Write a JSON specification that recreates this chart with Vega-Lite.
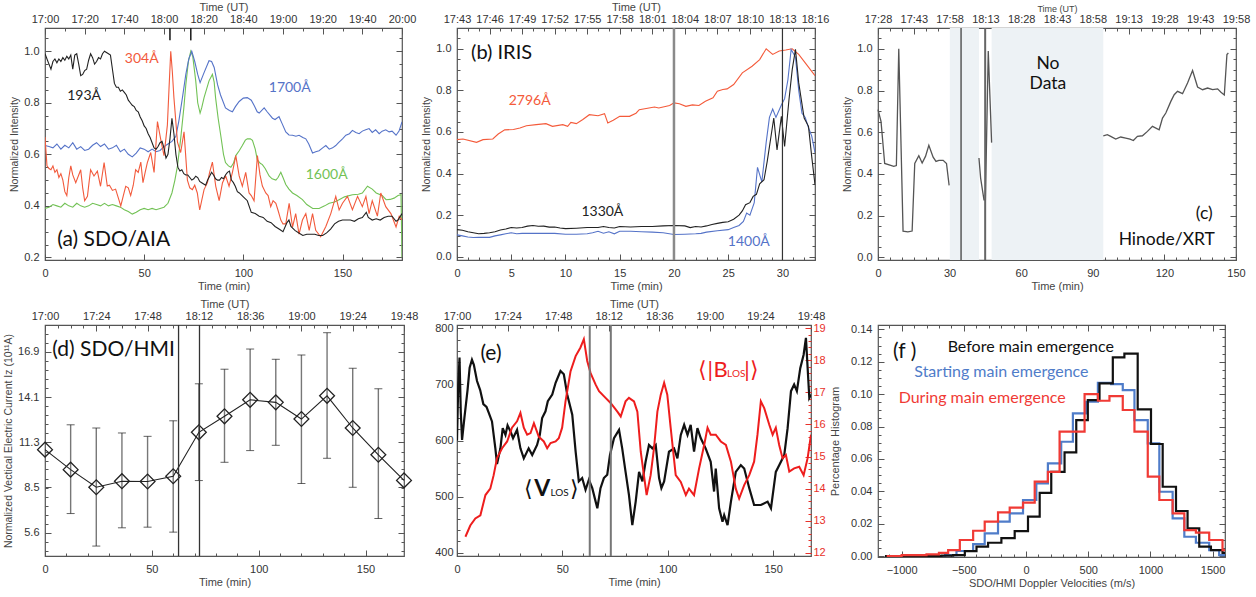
{
"$schema": "https://vega.github.io/schema/vega-lite/v6.json",
"background": "white",
"padding": {"left": 2, "top": 0, "right": 2, "bottom": 2},
"columns": 5,
"spacing": {"row": 65, "column": 10},
"align": "each",
"bounds": "flush",
"resolve": {"scale": {"color": "independent"}},
"config": {
 "view": {"stroke": "#555", "strokeWidth": 1.2},
 "axis": {"domain": false, "grid": false, "labelFlush": false, "labelOverlap": false, "labelFont": "Liberation Sans", "labelFontSize": 11, "labelColor": "#333", "titleFont": "Liberation Sans", "titleFontSize": 11, "titleFontWeight": "normal", "titleColor": "#444", "tickColor": "#555", "tickWidth": 1},
 "text": {"font": "Lato"}
},
"datasets": {
 "a_lines": [
  {"s":"1600","t":0,"v":0.39},{"s":"1600","t":2,"v":0.395},{"s":"1600","t":4,"v":0.405},{"s":"1600","t":6,"v":0.4},{"s":"1600","t":8,"v":0.395},{"s":"1600","t":10,"v":0.41},{"s":"1600","t":12,"v":0.4},{"s":"1600","t":14,"v":0.395},{"s":"1600","t":16,"v":0.41},{"s":"1600","t":18,"v":0.4},{"s":"1600","t":20,"v":0.395},{"s":"1600","t":22,"v":0.4},{"s":"1600","t":24,"v":0.41},{"s":"1600","t":26,"v":0.405},{"s":"1600","t":28,"v":0.4},{"s":"1600","t":30,"v":0.41},{"s":"1600","t":32,"v":0.4},{"s":"1600","t":34,"v":0.405},{"s":"1600","t":36,"v":0.4},{"s":"1600","t":38,"v":0.395},{"s":"1600","t":40,"v":0.385},{"s":"1600","t":42,"v":0.378},{"s":"1600","t":44,"v":0.368},{"s":"1600","t":46,"v":0.375},{"s":"1600","t":48,"v":0.385},{"s":"1600","t":50,"v":0.39},{"s":"1600","t":52,"v":0.385},{"s":"1600","t":54,"v":0.39},{"s":"1600","t":56,"v":0.385},{"s":"1600","t":58,"v":0.39},{"s":"1600","t":60,"v":0.395},{"s":"1600","t":62,"v":0.41},{"s":"1600","t":64,"v":0.45},{"s":"1600","t":65.5,"v":0.5},{"s":"1600","t":66.8,"v":0.555},{"s":"1600","t":68.4,"v":0.66},{"s":"1600","t":70,"v":0.78},{"s":"1600","t":71,"v":0.87},{"s":"1600","t":72.3,"v":0.96},{"s":"1600","t":73.5,"v":1.0},{"s":"1600","t":74.5,"v":0.98},{"s":"1600","t":76,"v":0.885},{"s":"1600","t":77,"v":0.8},{"s":"1600","t":78.2,"v":0.76},{"s":"1600","t":79,"v":0.78},{"s":"1600","t":80.2,"v":0.82},{"s":"1600","t":82.7,"v":0.885},{"s":"1600","t":84.4,"v":0.91},{"s":"1600","t":85.3,"v":0.88},{"s":"1600","t":86,"v":0.82},{"s":"1600","t":87.3,"v":0.74},{"s":"1600","t":88.6,"v":0.674},{"s":"1600","t":90,"v":0.6},{"s":"1600","t":91,"v":0.568},{"s":"1600","t":92.5,"v":0.555},{"s":"1600","t":93.7,"v":0.55},{"s":"1600","t":95,"v":0.565},{"s":"1600","t":96.2,"v":0.595},{"s":"1600","t":98,"v":0.615},{"s":"1600","t":99.5,"v":0.634},{"s":"1600","t":101,"v":0.655},{"s":"1600","t":102,"v":0.66},{"s":"1600","t":103.5,"v":0.66},{"s":"1600","t":104.6,"v":0.654},{"s":"1600","t":106,"v":0.62},{"s":"1600","t":107,"v":0.58},{"s":"1600","t":108.5,"v":0.565},{"s":"1600","t":109.6,"v":0.56},{"s":"1600","t":111,"v":0.545},{"s":"1600","t":113,"v":0.516},{"s":"1600","t":114.5,"v":0.505},{"s":"1600","t":116.4,"v":0.5},{"s":"1600","t":117.5,"v":0.51},{"s":"1600","t":118.9,"v":0.53},{"s":"1600","t":120,"v":0.51},{"s":"1600","t":121.4,"v":0.483},{"s":"1600","t":123,"v":0.465},{"s":"1600","t":124.8,"v":0.45},{"s":"1600","t":127,"v":0.44},{"s":"1600","t":129.8,"v":0.424},{"s":"1600","t":132,"v":0.405},{"s":"1600","t":135,"v":0.39},{"s":"1600","t":138.2,"v":0.39},{"s":"1600","t":141,"v":0.4},{"s":"1600","t":143.3,"v":0.41},{"s":"1600","t":146,"v":0.415},{"s":"1600","t":148.3,"v":0.424},{"s":"1600","t":151,"v":0.435},{"s":"1600","t":155,"v":0.443},{"s":"1600","t":158,"v":0.445},{"s":"1600","t":160,"v":0.45},{"s":"1600","t":162.6,"v":0.476},{"s":"1600","t":165,"v":0.465},{"s":"1600","t":167,"v":0.45},{"s":"1600","t":170,"v":0.44},{"s":"1600","t":172,"v":0.424},{"s":"1600","t":174,"v":0.425},{"s":"1600","t":176,"v":0.43},{"s":"1600","t":178,"v":0.44},{"s":"1600","t":179.5,"v":0.443},{"s":"1600","t":180,"v":0.2},
  {"s":"1700","t":0,"v":0.634},{"s":"1700","t":2,"v":0.63},{"s":"1700","t":4,"v":0.625},{"s":"1700","t":6,"v":0.64},{"s":"1700","t":8,"v":0.62},{"s":"1700","t":10,"v":0.635},{"s":"1700","t":12,"v":0.625},{"s":"1700","t":14,"v":0.645},{"s":"1700","t":16,"v":0.62},{"s":"1700","t":18,"v":0.63},{"s":"1700","t":20,"v":0.615},{"s":"1700","t":22,"v":0.62},{"s":"1700","t":24,"v":0.635},{"s":"1700","t":26,"v":0.645},{"s":"1700","t":28,"v":0.63},{"s":"1700","t":30,"v":0.64},{"s":"1700","t":32,"v":0.62},{"s":"1700","t":34,"v":0.625},{"s":"1700","t":36,"v":0.635},{"s":"1700","t":38,"v":0.61},{"s":"1700","t":40,"v":0.62},{"s":"1700","t":42,"v":0.6},{"s":"1700","t":44,"v":0.59},{"s":"1700","t":46,"v":0.605},{"s":"1700","t":48,"v":0.625},{"s":"1700","t":50,"v":0.62},{"s":"1700","t":52,"v":0.61},{"s":"1700","t":54,"v":0.62},{"s":"1700","t":56,"v":0.61},{"s":"1700","t":58,"v":0.615},{"s":"1700","t":60,"v":0.63},{"s":"1700","t":62,"v":0.64},{"s":"1700","t":64,"v":0.65},{"s":"1700","t":66,"v":0.67},{"s":"1700","t":67.5,"v":0.73},{"s":"1700","t":69.3,"v":0.82},{"s":"1700","t":71,"v":0.91},{"s":"1700","t":72.5,"v":0.97},{"s":"1700","t":74,"v":1.0},{"s":"1700","t":75.5,"v":0.96},{"s":"1700","t":77,"v":0.91},{"s":"1700","t":78.2,"v":0.878},{"s":"1700","t":80.2,"v":0.917},{"s":"1700","t":82.7,"v":0.963},{"s":"1700","t":84,"v":0.96},{"s":"1700","t":85.3,"v":0.937},{"s":"1700","t":87,"v":0.87},{"s":"1700","t":88.5,"v":0.83},{"s":"1700","t":91,"v":0.78},{"s":"1700","t":93,"v":0.77},{"s":"1700","t":94.5,"v":0.765},{"s":"1700","t":96,"v":0.785},{"s":"1700","t":97.9,"v":0.805},{"s":"1700","t":100,"v":0.818},{"s":"1700","t":102,"v":0.82},{"s":"1700","t":104,"v":0.81},{"s":"1700","t":105.4,"v":0.79},{"s":"1700","t":107,"v":0.765},{"s":"1700","t":108,"v":0.76},{"s":"1700","t":110.5,"v":0.78},{"s":"1700","t":112,"v":0.765},{"s":"1700","t":114.7,"v":0.74},{"s":"1700","t":116,"v":0.735},{"s":"1700","t":118,"v":0.746},{"s":"1700","t":119.5,"v":0.72},{"s":"1700","t":121.4,"v":0.687},{"s":"1700","t":123,"v":0.675},{"s":"1700","t":124.8,"v":0.674},{"s":"1700","t":126.5,"v":0.67},{"s":"1700","t":128.1,"v":0.674},{"s":"1700","t":130,"v":0.665},{"s":"1700","t":131.5,"v":0.66},{"s":"1700","t":133,"v":0.64},{"s":"1700","t":134.9,"v":0.605},{"s":"1700","t":136.5,"v":0.61},{"s":"1700","t":138.2,"v":0.614},{"s":"1700","t":140,"v":0.625},{"s":"1700","t":141.6,"v":0.634},{"s":"1700","t":143.3,"v":0.62},{"s":"1700","t":145,"v":0.625},{"s":"1700","t":146.6,"v":0.634},{"s":"1700","t":148,"v":0.645},{"s":"1700","t":150,"v":0.66},{"s":"1700","t":151.7,"v":0.674},{"s":"1700","t":153.5,"v":0.68},{"s":"1700","t":155,"v":0.693},{"s":"1700","t":156.7,"v":0.685},{"s":"1700","t":158.4,"v":0.68},{"s":"1700","t":160,"v":0.69},{"s":"1700","t":161.7,"v":0.695},{"s":"1700","t":163.4,"v":0.7},{"s":"1700","t":165,"v":0.685},{"s":"1700","t":166.7,"v":0.695},{"s":"1700","t":168.5,"v":0.68},{"s":"1700","t":170,"v":0.69},{"s":"1700","t":171.8,"v":0.695},{"s":"1700","t":173.5,"v":0.687},{"s":"1700","t":175,"v":0.69},{"s":"1700","t":177,"v":0.674},{"s":"1700","t":178.5,"v":0.69},{"s":"1700","t":180,"v":0.726},
  {"s":"304","t":0,"v":0.667},{"s":"304","t":1,"v":0.555},{"s":"304","t":2,"v":0.545},{"s":"304","t":3,"v":0.54},{"s":"304","t":4,"v":0.555},{"s":"304","t":5,"v":0.53},{"s":"304","t":6,"v":0.54},{"s":"304","t":7,"v":0.51},{"s":"304","t":8,"v":0.525},{"s":"304","t":9,"v":0.5},{"s":"304","t":10,"v":0.455},{"s":"304","t":11,"v":0.44},{"s":"304","t":12,"v":0.51},{"s":"304","t":13,"v":0.555},{"s":"304","t":14,"v":0.52},{"s":"304","t":15.5,"v":0.49},{"s":"304","t":17,"v":0.52},{"s":"304","t":18,"v":0.54},{"s":"304","t":19,"v":0.47},{"s":"304","t":20,"v":0.42},{"s":"304","t":21.4,"v":0.437},{"s":"304","t":22.2,"v":0.49},{"s":"304","t":23,"v":0.54},{"s":"304","t":24.7,"v":0.516},{"s":"304","t":26.4,"v":0.535},{"s":"304","t":28,"v":0.476},{"s":"304","t":29.8,"v":0.568},{"s":"304","t":31.4,"v":0.477},{"s":"304","t":32.5,"v":0.48},{"s":"304","t":34,"v":0.46},{"s":"304","t":35.6,"v":0.465},{"s":"304","t":37,"v":0.43},{"s":"304","t":38.2,"v":0.4},{"s":"304","t":39.5,"v":0.44},{"s":"304","t":40.7,"v":0.476},{"s":"304","t":42,"v":0.47},{"s":"304","t":43.2,"v":0.44},{"s":"304","t":44.5,"v":0.48},{"s":"304","t":45.7,"v":0.54},{"s":"304","t":47,"v":0.53},{"s":"304","t":48.3,"v":0.57},{"s":"304","t":49.4,"v":0.49},{"s":"304","t":50.5,"v":0.53},{"s":"304","t":51.6,"v":0.568},{"s":"304","t":53.3,"v":0.607},{"s":"304","t":55,"v":0.53},{"s":"304","t":56.7,"v":0.727},{"s":"304","t":58.3,"v":0.66},{"s":"304","t":60,"v":0.595},{"s":"304","t":61.7,"v":0.713},{"s":"304","t":62.5,"v":0.85},{"s":"304","t":63.4,"v":1.0},{"s":"304","t":64.2,"v":0.92},{"s":"304","t":65,"v":0.82},{"s":"304","t":66.8,"v":0.647},{"s":"304","t":68.4,"v":0.607},{"s":"304","t":70.1,"v":0.687},{"s":"304","t":71.8,"v":0.5},{"s":"304","t":73,"v":0.47},{"s":"304","t":74.3,"v":0.463},{"s":"304","t":75.5,"v":0.48},{"s":"304","t":76.8,"v":0.45},{"s":"304","t":78,"v":0.384},{"s":"304","t":79,"v":0.42},{"s":"304","t":80.2,"v":0.463},{"s":"304","t":81.9,"v":0.49},{"s":"304","t":83,"v":0.53},{"s":"304","t":84.4,"v":0.57},{"s":"304","t":86.1,"v":0.476},{"s":"304","t":87.8,"v":0.42},{"s":"304","t":89.5,"v":0.49},{"s":"304","t":91.1,"v":0.516},{"s":"304","t":92.8,"v":0.476},{"s":"304","t":94.5,"v":0.53},{"s":"304","t":96.2,"v":0.595},{"s":"304","t":97.9,"v":0.516},{"s":"304","t":99.5,"v":0.476},{"s":"304","t":101.2,"v":0.53},{"s":"304","t":102.9,"v":0.45},{"s":"304","t":104,"v":0.44},{"s":"304","t":105.4,"v":0.42},{"s":"304","t":107.1,"v":0.595},{"s":"304","t":108.4,"v":0.52},{"s":"304","t":109.6,"v":0.477},{"s":"304","t":111.3,"v":0.45},{"s":"304","t":112.5,"v":0.44},{"s":"304","t":113.8,"v":0.397},{"s":"304","t":115,"v":0.42},{"s":"304","t":116.4,"v":0.41},{"s":"304","t":117.6,"v":0.38},{"s":"304","t":118.9,"v":0.345},{"s":"304","t":120,"v":0.33},{"s":"304","t":121.4,"v":0.33},{"s":"304","t":123.1,"v":0.41},{"s":"304","t":124.8,"v":0.318},{"s":"304","t":126.4,"v":0.37},{"s":"304","t":128.1,"v":0.29},{"s":"304","t":129.8,"v":0.345},{"s":"304","t":131.5,"v":0.37},{"s":"304","t":133.2,"v":0.305},{"s":"304","t":134.9,"v":0.37},{"s":"304","t":136.5,"v":0.305},{"s":"304","t":139,"v":0.28},{"s":"304","t":141.6,"v":0.32},{"s":"304","t":144.1,"v":0.37},{"s":"304","t":146.6,"v":0.437},{"s":"304","t":148.3,"v":0.384},{"s":"304","t":150,"v":0.41},{"s":"304","t":152.5,"v":0.437},{"s":"304","t":155,"v":0.385},{"s":"304","t":157.6,"v":0.437},{"s":"304","t":160,"v":0.397},{"s":"304","t":161.8,"v":0.437},{"s":"304","t":163.4,"v":0.37},{"s":"304","t":165,"v":0.42},{"s":"304","t":167.6,"v":0.36},{"s":"304","t":169.3,"v":0.45},{"s":"304","t":171.8,"v":0.397},{"s":"304","t":174.4,"v":0.37},{"s":"304","t":177,"v":0.318},{"s":"304","t":178.6,"v":0.36},{"s":"304","t":180,"v":0.345},
  {"s":"193","t":0,"v":0.99},{"s":"193","t":1,"v":0.97},{"s":"193","t":2,"v":0.95},{"s":"193","t":3,"v":0.93},{"s":"193","t":4,"v":0.96},{"s":"193","t":5,"v":0.97},{"s":"193","t":6,"v":0.955},{"s":"193","t":7,"v":0.97},{"s":"193","t":8,"v":0.96},{"s":"193","t":9,"v":0.975},{"s":"193","t":10,"v":0.965},{"s":"193","t":11,"v":0.98},{"s":"193","t":12,"v":0.97},{"s":"193","t":13,"v":0.985},{"s":"193","t":14,"v":0.93},{"s":"193","t":15,"v":0.985},{"s":"193","t":16,"v":0.99},{"s":"193","t":17,"v":0.95},{"s":"193","t":18,"v":0.905},{"s":"193","t":19,"v":0.91},{"s":"193","t":20,"v":0.925},{"s":"193","t":21,"v":0.93},{"s":"193","t":22,"v":0.965},{"s":"193","t":23,"v":0.99},{"s":"193","t":24,"v":0.975},{"s":"193","t":25,"v":0.95},{"s":"193","t":26,"v":0.96},{"s":"193","t":27,"v":0.975},{"s":"193","t":28,"v":0.97},{"s":"193","t":29,"v":0.99},{"s":"193","t":30,"v":1.0},{"s":"193","t":31,"v":0.995},{"s":"193","t":32,"v":0.99},{"s":"193","t":33,"v":0.985},{"s":"193","t":34,"v":0.93},{"s":"193","t":35,"v":0.875},{"s":"193","t":36,"v":0.86},{"s":"193","t":37,"v":0.86},{"s":"193","t":38,"v":0.845},{"s":"193","t":39,"v":0.85},{"s":"193","t":40,"v":0.84},{"s":"193","t":41,"v":0.83},{"s":"193","t":42,"v":0.81},{"s":"193","t":43,"v":0.8},{"s":"193","t":44,"v":0.79},{"s":"193","t":45,"v":0.785},{"s":"193","t":46,"v":0.77},{"s":"193","t":47,"v":0.765},{"s":"193","t":48,"v":0.745},{"s":"193","t":49,"v":0.73},{"s":"193","t":50,"v":0.71},{"s":"193","t":51,"v":0.7},{"s":"193","t":52,"v":0.68},{"s":"193","t":53,"v":0.665},{"s":"193","t":54,"v":0.645},{"s":"193","t":55,"v":0.625},{"s":"193","t":56,"v":0.62},{"s":"193","t":57,"v":0.63},{"s":"193","t":58,"v":0.645},{"s":"193","t":59,"v":0.65},{"s":"193","t":60,"v":0.625},{"s":"193","t":61,"v":0.585},{"s":"193","t":62,"v":0.6},{"s":"193","t":63,"v":0.66},{"s":"193","t":64,"v":0.74},{"s":"193","t":65,"v":0.68},{"s":"193","t":66,"v":0.6},{"s":"193","t":67,"v":0.55},{"s":"193","t":68,"v":0.535},{"s":"193","t":69,"v":0.54},{"s":"193","t":70,"v":0.525},{"s":"193","t":71,"v":0.52},{"s":"193","t":72,"v":0.52},{"s":"193","t":73,"v":0.51},{"s":"193","t":74,"v":0.5},{"s":"193","t":75,"v":0.505},{"s":"193","t":76,"v":0.515},{"s":"193","t":77,"v":0.51},{"s":"193","t":78,"v":0.495},{"s":"193","t":79,"v":0.49},{"s":"193","t":80,"v":0.485},{"s":"193","t":81,"v":0.48},{"s":"193","t":82,"v":0.5},{"s":"193","t":83,"v":0.515},{"s":"193","t":84,"v":0.53},{"s":"193","t":85,"v":0.52},{"s":"193","t":86,"v":0.505},{"s":"193","t":87,"v":0.5},{"s":"193","t":88,"v":0.5},{"s":"193","t":89,"v":0.51},{"s":"193","t":90,"v":0.505},{"s":"193","t":91,"v":0.52},{"s":"193","t":92,"v":0.53},{"s":"193","t":93,"v":0.535},{"s":"193","t":94,"v":0.5},{"s":"193","t":95,"v":0.49},{"s":"193","t":96,"v":0.475},{"s":"193","t":97,"v":0.455},{"s":"193","t":98,"v":0.45},{"s":"193","t":100,"v":0.435},{"s":"193","t":102,"v":0.42},{"s":"193","t":104,"v":0.375},{"s":"193","t":106,"v":0.37},{"s":"193","t":108,"v":0.36},{"s":"193","t":110,"v":0.355},{"s":"193","t":112,"v":0.34},{"s":"193","t":114,"v":0.335},{"s":"193","t":116,"v":0.32},{"s":"193","t":118,"v":0.31},{"s":"193","t":120,"v":0.3},{"s":"193","t":122,"v":0.335},{"s":"193","t":123,"v":0.345},{"s":"193","t":124,"v":0.32},{"s":"193","t":126,"v":0.305},{"s":"193","t":128,"v":0.295},{"s":"193","t":130,"v":0.285},{"s":"193","t":132,"v":0.29},{"s":"193","t":134,"v":0.29},{"s":"193","t":136,"v":0.29},{"s":"193","t":138,"v":0.285},{"s":"193","t":140,"v":0.285},{"s":"193","t":142,"v":0.295},{"s":"193","t":144,"v":0.31},{"s":"193","t":146,"v":0.33},{"s":"193","t":148,"v":0.34},{"s":"193","t":150,"v":0.345},{"s":"193","t":152,"v":0.345},{"s":"193","t":154,"v":0.345},{"s":"193","t":156,"v":0.34},{"s":"193","t":158,"v":0.35},{"s":"193","t":160,"v":0.355},{"s":"193","t":162,"v":0.375},{"s":"193","t":163,"v":0.355},{"s":"193","t":165,"v":0.345},{"s":"193","t":167,"v":0.35},{"s":"193","t":169,"v":0.345},{"s":"193","t":171,"v":0.355},{"s":"193","t":173,"v":0.36},{"s":"193","t":175,"v":0.36},{"s":"193","t":177,"v":0.34},{"s":"193","t":178,"v":0.345},{"s":"193","t":180,"v":0.37}
 ],
 "a_text": [{"s":"193","t":19.7,"v":0.825,"label":"193Å"},{"s":"304","t":48.8,"v":0.97,"label":"304Å"},{"s":"1700","t":123.4,"v":0.858,"label":"1700Å"},{"s":"1600","t":142,"v":0.52,"label":"1600Å"}],
 "a_marks": [{"t":63,"lo":1.042,"hi":1.09},{"t":73.5,"lo":1.042,"hi":1.09}],
 "a_title": [{"t":6.2,"v":0.266,"label":"(a) SDO/AIA"}],
 "b_lines": [
  {"s":"2796","t":0,"v":0.563},{"s":"2796","t":0.55,"v":0.566},{"s":"2796","t":1.8,"v":0.55},{"s":"2796","t":2.4,"v":0.563},{"s":"2796","t":3.3,"v":0.566},{"s":"2796","t":3.8,"v":0.59},{"s":"2796","t":4.4,"v":0.61},{"s":"2796","t":5.2,"v":0.612},{"s":"2796","t":5.8,"v":0.619},{"s":"2796","t":6.4,"v":0.63},{"s":"2796","t":7.3,"v":0.635},{"s":"2796","t":8.2,"v":0.64},{"s":"2796","t":8.8,"v":0.627},{"s":"2796","t":9.75,"v":0.635},{"s":"2796","t":10.2,"v":0.627},{"s":"2796","t":10.5,"v":0.646},{"s":"2796","t":11,"v":0.64},{"s":"2796","t":11.6,"v":0.66},{"s":"2796","t":12.2,"v":0.683},{"s":"2796","t":13,"v":0.678},{"s":"2796","t":13.6,"v":0.688},{"s":"2796","t":13.9,"v":0.643},{"s":"2796","t":14.4,"v":0.656},{"s":"2796","t":15,"v":0.675},{"s":"2796","t":15.9,"v":0.675},{"s":"2796","t":16.5,"v":0.69},{"s":"2796","t":16.8,"v":0.707},{"s":"2796","t":17.7,"v":0.715},{"s":"2796","t":18.2,"v":0.72},{"s":"2796","t":18.6,"v":0.715},{"s":"2796","t":19.6,"v":0.727},{"s":"2796","t":20,"v":0.74},{"s":"2796","t":20.5,"v":0.736},{"s":"2796","t":21.1,"v":0.723},{"s":"2796","t":21.7,"v":0.73},{"s":"2796","t":22.3,"v":0.727},{"s":"2796","t":22.9,"v":0.748},{"s":"2796","t":23.6,"v":0.764},{"s":"2796","t":24,"v":0.796},{"s":"2796","t":24.5,"v":0.804},{"s":"2796","t":24.9,"v":0.807},{"s":"2796","t":25.5,"v":0.828},{"s":"2796","t":26.3,"v":0.884},{"s":"2796","t":27.2,"v":0.916},{"s":"2796","t":27.9,"v":0.948},{"s":"2796","t":28.5,"v":1.0},{"s":"2796","t":29.1,"v":0.973},{"s":"2796","t":29.7,"v":0.989},{"s":"2796","t":30.3,"v":0.994},{"s":"2796","t":30.9,"v":1.0},{"s":"2796","t":31.5,"v":0.973},{"s":"2796","t":32.1,"v":0.932},{"s":"2796","t":33,"v":0.871},
  {"s":"1400","t":0,"v":0.105},{"s":"1400","t":0.5,"v":0.1},{"s":"1400","t":1,"v":0.095},{"s":"1400","t":1.5,"v":0.092},{"s":"1400","t":2,"v":0.093},{"s":"1400","t":3,"v":0.093},{"s":"1400","t":3.5,"v":0.1},{"s":"1400","t":4,"v":0.105},{"s":"1400","t":4.5,"v":0.11},{"s":"1400","t":5,"v":0.115},{"s":"1400","t":5.5,"v":0.11},{"s":"1400","t":6,"v":0.112},{"s":"1400","t":7,"v":0.113},{"s":"1400","t":8,"v":0.112},{"s":"1400","t":9,"v":0.112},{"s":"1400","t":10,"v":0.108},{"s":"1400","t":11,"v":0.108},{"s":"1400","t":12,"v":0.11},{"s":"1400","t":12.5,"v":0.115},{"s":"1400","t":13,"v":0.122},{"s":"1400","t":13.5,"v":0.113},{"s":"1400","t":14,"v":0.12},{"s":"1400","t":14.5,"v":0.11},{"s":"1400","t":15,"v":0.122},{"s":"1400","t":16,"v":0.122},{"s":"1400","t":17,"v":0.12},{"s":"1400","t":18,"v":0.118},{"s":"1400","t":19,"v":0.115},{"s":"1400","t":20,"v":0.107},{"s":"1400","t":21,"v":0.108},{"s":"1400","t":22,"v":0.11},{"s":"1400","t":22.5,"v":0.112},{"s":"1400","t":23,"v":0.118},{"s":"1400","t":24,"v":0.125},{"s":"1400","t":25,"v":0.13},{"s":"1400","t":25.5,"v":0.14},{"s":"1400","t":26,"v":0.15},{"s":"1400","t":26.4,"v":0.17},{"s":"1400","t":26.7,"v":0.21},{"s":"1400","t":27,"v":0.2},{"s":"1400","t":27.4,"v":0.26},{"s":"1400","t":27.7,"v":0.43},{"s":"1400","t":28.1,"v":0.36},{"s":"1400","t":28.5,"v":0.55},{"s":"1400","t":28.8,"v":0.67},{"s":"1400","t":29.1,"v":0.71},{"s":"1400","t":29.4,"v":0.67},{"s":"1400","t":29.9,"v":0.73},{"s":"1400","t":30.2,"v":0.76},{"s":"1400","t":30.5,"v":0.85},{"s":"1400","t":30.8,"v":0.997},{"s":"1400","t":31.2,"v":0.96},{"s":"1400","t":31.5,"v":0.8},{"s":"1400","t":31.8,"v":0.69},{"s":"1400","t":32.1,"v":0.67},{"s":"1400","t":32.4,"v":0.62},{"s":"1400","t":32.7,"v":0.58},{"s":"1400","t":33,"v":0.5},
  {"s":"1330","t":0,"v":0.13},{"s":"1330","t":0.5,"v":0.127},{"s":"1330","t":1,"v":0.12},{"s":"1330","t":1.5,"v":0.115},{"s":"1330","t":2,"v":0.11},{"s":"1330","t":2.5,"v":0.112},{"s":"1330","t":3,"v":0.115},{"s":"1330","t":3.5,"v":0.12},{"s":"1330","t":4,"v":0.128},{"s":"1330","t":4.5,"v":0.133},{"s":"1330","t":5,"v":0.14},{"s":"1330","t":5.5,"v":0.138},{"s":"1330","t":6,"v":0.14},{"s":"1330","t":6.5,"v":0.147},{"s":"1330","t":7,"v":0.15},{"s":"1330","t":7.5,"v":0.146},{"s":"1330","t":8,"v":0.147},{"s":"1330","t":8.5,"v":0.142},{"s":"1330","t":9,"v":0.143},{"s":"1330","t":9.5,"v":0.138},{"s":"1330","t":10,"v":0.135},{"s":"1330","t":11,"v":0.137},{"s":"1330","t":12,"v":0.14},{"s":"1330","t":13,"v":0.14},{"s":"1330","t":13.5,"v":0.145},{"s":"1330","t":14,"v":0.14},{"s":"1330","t":14.5,"v":0.138},{"s":"1330","t":15,"v":0.145},{"s":"1330","t":16,"v":0.143},{"s":"1330","t":17,"v":0.145},{"s":"1330","t":18,"v":0.145},{"s":"1330","t":19,"v":0.148},{"s":"1330","t":20,"v":0.15},{"s":"1330","t":21,"v":0.148},{"s":"1330","t":21.5,"v":0.14},{"s":"1330","t":22,"v":0.145},{"s":"1330","t":22.5,"v":0.143},{"s":"1330","t":23,"v":0.148},{"s":"1330","t":23.5,"v":0.155},{"s":"1330","t":24,"v":0.16},{"s":"1330","t":24.5,"v":0.165},{"s":"1330","t":25,"v":0.168},{"s":"1330","t":25.5,"v":0.18},{"s":"1330","t":26,"v":0.2},{"s":"1330","t":26.3,"v":0.22},{"s":"1330","t":26.6,"v":0.25},{"s":"1330","t":27,"v":0.26},{"s":"1330","t":27.3,"v":0.29},{"s":"1330","t":27.6,"v":0.3},{"s":"1330","t":27.9,"v":0.35},{"s":"1330","t":28.3,"v":0.37},{"s":"1330","t":28.6,"v":0.46},{"s":"1330","t":29.2,"v":0.667},{"s":"1330","t":29.5,"v":0.514},{"s":"1330","t":29.9,"v":0.675},{"s":"1330","t":30.2,"v":0.53},{"s":"1330","t":30.6,"v":0.755},{"s":"1330","t":30.9,"v":0.9},{"s":"1330","t":31.2,"v":0.997},{"s":"1330","t":31.5,"v":0.836},{"s":"1330","t":32,"v":0.667},{"s":"1330","t":32.4,"v":0.627},{"s":"1330","t":32.7,"v":0.48},{"s":"1330","t":33,"v":0.346}
 ],
 "b_text": [{"s":"2796","t":6.7,"v":0.748,"label":"2796Å"},{"s":"1330","t":13.4,"v":0.217,"label":"1330Å"},{"s":"1400","t":26.9,"v":0.072,"label":"1400Å"}],
 "b_rules": [{"k":"gray","t":20,"lo":-0.016,"hi":1.1},{"k":"dark","t":30,"lo":-0.016,"hi":1.1}],
 "b_title": [{"t":1.3,"v":0.98,"label":"(b) IRIS"}],
 "c_shade": [{"t0":30.1,"t1":42.3,"lo":-0.013,"hi":1.1},{"t0":47.6,"t1":94.4,"lo":-0.013,"hi":1.1}],
 "c_line": [
  {"seg":1,"t":0,"v":0.708},{"seg":1,"t":1.26,"v":0.652},{"seg":1,"t":2.8,"v":0.45},{"seg":1,"t":6.6,"v":0.436},{"seg":1,"t":7.7,"v":0.44},{"seg":1,"t":8.7,"v":1.0},{"seg":1,"t":10.5,"v":0.125},{"seg":1,"t":12.5,"v":0.122},{"seg":1,"t":14.3,"v":0.126},{"seg":1,"t":15.4,"v":0.45},{"seg":1,"t":17.1,"v":0.487},{"seg":1,"t":18.5,"v":0.452},{"seg":1,"t":19.9,"v":0.484},{"seg":1,"t":21.3,"v":0.537},{"seg":1,"t":23.1,"v":0.48},{"seg":1,"t":24.3,"v":0.46},{"seg":1,"t":25.5,"v":0.465},{"seg":1,"t":27.3,"v":0.465},{"seg":1,"t":28.7,"v":0.45},{"seg":1,"t":29.8,"v":0.345},
  {"seg":2,"t":42.3,"v":0.476},{"seg":2,"t":43,"v":0.38},{"seg":2,"t":44.4,"v":0.276},{"seg":2,"t":45,"v":0.276},{"seg":2,"t":46.2,"v":0.99},{"seg":2,"t":47.6,"v":0.55},
  {"seg":3,"t":94.4,"v":0.583},{"seg":3,"t":96.1,"v":0.588},{"seg":3,"t":97.5,"v":0.58},{"seg":3,"t":99.6,"v":0.567},{"seg":3,"t":101.7,"v":0.577},{"seg":3,"t":103.8,"v":0.572},{"seg":3,"t":105.6,"v":0.567},{"seg":3,"t":107,"v":0.56},{"seg":3,"t":108.7,"v":0.58},{"seg":3,"t":110.8,"v":0.583},{"seg":3,"t":112.9,"v":0.604},{"seg":3,"t":115,"v":0.628},{"seg":3,"t":117.8,"v":0.612},{"seg":3,"t":119.2,"v":0.668},{"seg":3,"t":120.6,"v":0.692},{"seg":3,"t":122.7,"v":0.748},{"seg":3,"t":124.1,"v":0.78},{"seg":3,"t":125.5,"v":0.796},{"seg":3,"t":127.6,"v":0.785},{"seg":3,"t":129.7,"v":0.836},{"seg":3,"t":131.8,"v":0.896},{"seg":3,"t":133.9,"v":0.817},{"seg":3,"t":136,"v":0.804},{"seg":3,"t":138.1,"v":0.812},{"seg":3,"t":140.2,"v":0.804},{"seg":3,"t":142.3,"v":0.808},{"seg":3,"t":143.7,"v":0.792},{"seg":3,"t":145.1,"v":0.779},{"seg":3,"t":146.2,"v":0.973},{"seg":3,"t":146.8,"v":0.98}
 ],
 "c_rules": [{"k":"a","t":34.8,"lo":-0.013,"hi":1.1},{"k":"b","t":44.9,"lo":-0.013,"hi":1.1}],
 "c_text": [{"t":71.2,"v":0.925,"label":"No"},{"t":71.2,"v":0.83,"label":"Data"},{"t":136.7,"v":0.21,"label":"(c)"},{"t":121,"v":0.083,"label":"Hinode/XRT"}],
 "d_pts": [{"t":0,"v":10.82},{"t":12,"v":9.57},{"t":24,"v":8.47},{"t":36,"v":8.85},{"t":48,"v":8.83},{"t":60,"v":9.16},{"t":72,"v":11.9},{"t":84,"v":12.9},{"t":96,"v":13.93},{"t":108,"v":13.77},{"t":120,"v":12.73},{"t":132,"v":14.18},{"t":144,"v":12.17},{"t":156,"v":10.5},{"t":168,"v":8.9}],
 "d_err": [{"t":12,"lo":6.83,"hi":12.37},{"t":24,"lo":4.8,"hi":12.17},{"t":36,"lo":5.94,"hi":11.86},{"t":48,"lo":5.98,"hi":11.65},{"t":60,"lo":5.67,"hi":12.62},{"t":72,"lo":8.89,"hi":14.93},{"t":84,"lo":10.03,"hi":15.84},{"t":96,"lo":10.76,"hi":17.1},{"t":108,"lo":11.09,"hi":16.46},{"t":120,"lo":8.7,"hi":16.73},{"t":132,"lo":10.28,"hi":18.12},{"t":144,"lo":8.47,"hi":15.9},{"t":156,"lo":6.52,"hi":14.62}],
 "d_rules": [{"t":62.5,"lo":4.18,"hi":18.6},{"t":72.3,"lo":4.18,"hi":18.6}],
 "d_title": [{"t":3.4,"v":17.05,"label":"(d) SDO/HMI"}],
 "e_v": [{"t":0,"v":600},{"t":0.6,"v":700},{"t":1.2,"v":748},{"t":1.8,"v":650},{"t":2.4,"v":601},{"t":3.5,"v":640},{"t":5,"v":690},{"t":6,"v":730},{"t":7.1,"v":744},{"t":8,"v":735},{"t":9.5,"v":706},{"t":11,"v":690},{"t":12.5,"v":665},{"t":14,"v":660},{"t":15,"v":650},{"t":16.6,"v":634},{"t":18.2,"v":586},{"t":19,"v":558},{"t":20.6,"v":586},{"t":21.7,"v":622},{"t":23,"v":610},{"t":24,"v":627},{"t":25.4,"v":616},{"t":26.6,"v":604},{"t":28.5,"v":619},{"t":30.1,"v":586},{"t":31.7,"v":568},{"t":34,"v":586},{"t":35.7,"v":574},{"t":38,"v":592},{"t":39.3,"v":610},{"t":40.4,"v":640},{"t":42,"v":652},{"t":43.1,"v":670},{"t":45.2,"v":682},{"t":46.8,"v":703},{"t":49.1,"v":724},{"t":50.7,"v":718},{"t":52.3,"v":682},{"t":54.7,"v":646},{"t":56.3,"v":580},{"t":57.8,"v":527},{"t":59.4,"v":533},{"t":61,"v":512},{"t":62.6,"v":530},{"t":64.2,"v":515},{"t":65.8,"v":491},{"t":66.6,"v":479},{"t":68.1,"v":515},{"t":69.7,"v":533},{"t":71.3,"v":539},{"t":72.6,"v":574},{"t":74.5,"v":604},{"t":76.9,"v":619},{"t":78.4,"v":586},{"t":80,"v":544},{"t":81.6,"v":503},{"t":83.2,"v":449},{"t":84.8,"v":491},{"t":86.4,"v":544},{"t":88,"v":527},{"t":89.5,"v":562},{"t":91.1,"v":592},{"t":92.7,"v":586},{"t":94.3,"v":592},{"t":95.9,"v":533},{"t":97,"v":515},{"t":98.3,"v":527},{"t":100.6,"v":580},{"t":103,"v":586},{"t":104.6,"v":568},{"t":106.2,"v":610},{"t":107.8,"v":628},{"t":109.4,"v":610},{"t":110.9,"v":628},{"t":112.5,"v":580},{"t":114.1,"v":622},{"t":115.7,"v":604},{"t":118,"v":586},{"t":120.4,"v":562},{"t":122,"v":509},{"t":122.8,"v":550},{"t":124.4,"v":479},{"t":126,"v":455},{"t":126.8,"v":467},{"t":128.4,"v":449},{"t":130,"v":491},{"t":132.3,"v":544},{"t":134.7,"v":556},{"t":136.3,"v":550},{"t":138.7,"v":515},{"t":141,"v":485},{"t":144.2,"v":485},{"t":147.4,"v":491},{"t":149,"v":479},{"t":151.3,"v":544},{"t":152.9,"v":556},{"t":155.3,"v":574},{"t":156.9,"v":622},{"t":158.5,"v":688},{"t":160,"v":700},{"t":161.3,"v":688},{"t":162.9,"v":729},{"t":164.5,"v":753},{"t":165.6,"v":783},{"t":167.2,"v":676},{"t":168,"v":682}],
 "e_b": [{"t":4,"b":12.5},{"t":6.3,"b":12.85},{"t":8.7,"b":13.07},{"t":11.1,"b":13.17},{"t":13.5,"b":13.8},{"t":15.8,"b":14.0},{"t":17.4,"b":14.42},{"t":19,"b":14.95},{"t":21.4,"b":15.26},{"t":23.8,"b":15.47},{"t":26.1,"b":15.9},{"t":28.5,"b":16.1},{"t":30.1,"b":16.36},{"t":31.7,"b":15.9},{"t":33.3,"b":15.68},{"t":34.9,"b":15.73},{"t":36.5,"b":16.04},{"t":38.8,"b":15.62},{"t":41.2,"b":15.47},{"t":42.8,"b":15.26},{"t":44.4,"b":15.42},{"t":46.8,"b":15.47},{"t":48.3,"b":15.57},{"t":49.9,"b":15.9},{"t":51.5,"b":16.72},{"t":53.9,"b":17.66},{"t":56.3,"b":18.13},{"t":58.6,"b":18.4},{"t":60.2,"b":18.66},{"t":61.8,"b":17.98},{"t":63.4,"b":17.6},{"t":65.8,"b":17.24},{"t":67.4,"b":17.04},{"t":70.5,"b":16.83},{"t":72.9,"b":16.67},{"t":76.1,"b":16.4},{"t":77.7,"b":16.25},{"t":80,"b":16.72},{"t":81.6,"b":16.83},{"t":84,"b":16.72},{"t":85.6,"b":16.4},{"t":87.2,"b":15.15},{"t":88.7,"b":14.42},{"t":90,"b":13.8},{"t":91.9,"b":14.42},{"t":93.5,"b":15.26},{"t":95.1,"b":16.4},{"t":96.7,"b":16.93},{"t":98.3,"b":17.3},{"t":99.8,"b":16.93},{"t":101.4,"b":15.9},{"t":103.8,"b":14.42},{"t":106.2,"b":14.21},{"t":108.6,"b":13.8},{"t":110.1,"b":14.0},{"t":112.5,"b":13.8},{"t":114.9,"b":14.63},{"t":117.3,"b":15.36},{"t":118.9,"b":15.9},{"t":120.4,"b":15.68},{"t":122.8,"b":15.68},{"t":125.2,"b":15.47},{"t":127.6,"b":15.36},{"t":130,"b":14.84},{"t":132.3,"b":14.0},{"t":133.9,"b":13.69},{"t":136.3,"b":14.11},{"t":138.7,"b":14.42},{"t":141,"b":14.84},{"t":142.6,"b":15.68},{"t":144.2,"b":16.72},{"t":145.8,"b":16.51},{"t":148.2,"b":15.99},{"t":149.8,"b":15.68},{"t":151.3,"b":15.9},{"t":152.9,"b":15.36},{"t":154.5,"b":14.95},{"t":156.1,"b":15.05},{"t":157.7,"b":14.53},{"t":160,"b":14.63},{"t":162.4,"b":14.68},{"t":164.5,"b":14.42},{"t":166.4,"b":14.95},{"t":168,"b":15.68}],
 "e_rules": [{"t":63,"lo":394,"hi":806},{"t":73,"lo":394,"hi":806}],
 "e_btext": [{"t":118,"b":17.69,"label":"⟨|"},{"t":125.1,"b":17.69,"label":"B"},{"t":139.8,"b":17.69,"label":"|⟩"}],
 "e_bsub": [{"t":132.5,"b":17.57,"label":"LOS"}],
 "e_vtext": [{"t":34.1,"v":513,"label":"⟨"},{"t":55.9,"v":513,"label":"⟩"}],
 "e_vbold": [{"t":40.4,"v":513,"label":"V"}],
 "e_vsub": [{"t":48.7,"v":506,"label":"LOS"}],
 "e_title": [{"t":11.1,"v":755,"label":"(e)"}],
 "f_hist": [
  {"s":"Starting","x":-1100,"h":0.0},{"s":"Starting","x":-650,"h":0.0005},{"s":"Starting","x":-559,"h":0.0031},{"s":"Starting","x":-425,"h":0.0074},{"s":"Starting","x":-332,"h":0.014},{"s":"Starting","x":-225,"h":0.0212},{"s":"Starting","x":-131,"h":0.0264},{"s":"Starting","x":-24,"h":0.0346},{"s":"Starting","x":83,"h":0.0449},{"s":"Starting","x":176,"h":0.0572},{"s":"Starting","x":283,"h":0.0706},{"s":"Starting","x":377,"h":0.0881},{"s":"Starting","x":484,"h":0.0953},{"s":"Starting","x":578,"h":0.107},{"s":"Starting","x":684,"h":0.1062},{"s":"Starting","x":778,"h":0.1025},{"s":"Starting","x":872,"h":0.084},{"s":"Starting","x":979,"h":0.0696},{"s":"Starting","x":1072,"h":0.0397},{"s":"Starting","x":1179,"h":0.0233},{"s":"Starting","x":1273,"h":0.0119},{"s":"Starting","x":1366,"h":0.0082},{"s":"Starting","x":1473,"h":0.0037},{"s":"Starting","x":1553,"h":0.0006},{"s":"Starting","x":1600,"h":0.0006},
  {"s":"Before","x":-1134,"h":0.0},{"s":"Before","x":-680,"h":0.0003},{"s":"Before","x":-586,"h":0.0006},{"s":"Before","x":-492,"h":0.003},{"s":"Before","x":-398,"h":0.0058},{"s":"Before","x":-305,"h":0.0082},{"s":"Before","x":-198,"h":0.011},{"s":"Before","x":-91,"h":0.0154},{"s":"Before","x":16,"h":0.0243},{"s":"Before","x":110,"h":0.039},{"s":"Before","x":203,"h":0.052},{"s":"Before","x":310,"h":0.064},{"s":"Before","x":404,"h":0.084},{"s":"Before","x":497,"h":0.0963},{"s":"Before","x":591,"h":0.1067},{"s":"Before","x":698,"h":0.1227},{"s":"Before","x":791,"h":0.125},{"s":"Before","x":898,"h":0.0906},{"s":"Before","x":1005,"h":0.0692},{"s":"Before","x":1099,"h":0.0428},{"s":"Before","x":1206,"h":0.0278},{"s":"Before","x":1299,"h":0.0171},{"s":"Before","x":1393,"h":0.0058},{"s":"Before","x":1487,"h":0.0037},{"s":"Before","x":1580,"h":0.002},{"s":"Before","x":1600,"h":0.002},
  {"s":"During","x":-1120,"h":0.0},{"s":"During","x":-1000,"h":0.0005},{"s":"During","x":-800,"h":0.001},{"s":"During","x":-700,"h":0.002},{"s":"During","x":-626,"h":0.0037},{"s":"During","x":-532,"h":0.0099},{"s":"During","x":-425,"h":0.0156},{"s":"During","x":-332,"h":0.0212},{"s":"During","x":-225,"h":0.027},{"s":"During","x":-131,"h":0.0299},{"s":"During","x":-24,"h":0.033},{"s":"During","x":70,"h":0.0459},{"s":"During","x":176,"h":0.052},{"s":"During","x":270,"h":0.0768},{"s":"During","x":377,"h":0.0768},{"s":"During","x":471,"h":0.1},{"s":"During","x":578,"h":0.0959},{"s":"During","x":671,"h":0.0988},{"s":"During","x":778,"h":0.0902},{"s":"During","x":872,"h":0.0768},{"s":"During","x":979,"h":0.049},{"s":"During","x":1072,"h":0.0346},{"s":"During","x":1179,"h":0.0264},{"s":"During","x":1273,"h":0.016},{"s":"During","x":1366,"h":0.0144},{"s":"During","x":1473,"h":0.0099},{"s":"During","x":1580,"h":0.0037},{"s":"During","x":1600,"h":0.0037}
 ],
 "f_text": [{"s":"Before","x":-630,"h":0.129,"label":"Before main emergence"},{"s":"Starting","x":-898,"h":0.1138,"label":"Starting main emergence"},{"s":"During","x":-1024,"h":0.0978,"label":"During main emergence"}],
 "f_title": [{"x":-1069,"h":0.126,"label":"(f )"}]
},
"concat": [
 {
  "width": 357, "height": 232,
  "resolve": {"axis": {"x": "independent", "y": "independent"}},
  "layer": [
   {"data": {"name": "a_lines"}, "mark": {"type": "line", "strokeWidth": 1.1, "clip": true},
    "encoding": {
     "x": {"field": "t", "type": "quantitative", "scale": {"domain": [0, 180], "nice": false, "zero": false}, "axis": {"orient": "bottom", "values": [0, 50, 100, 150], "title": "Time (min)", "tickSize": -6, "labelPadding": 13, "titlePadding": 2}},
     "y": {"field": "v", "type": "quantitative", "scale": {"domain": [0.19, 1.09], "nice": false, "zero": false}, "axis": {"orient": "left", "values": [0.2, 0.4, 0.6, 0.8, 1.0], "format": ".1f", "title": "Normalized Intensity", "titleFontSize": 10.5, "tickSize": -6, "labelPadding": 12, "titlePadding": 4}},
     "color": {"field": "s", "type": "nominal", "scale": {"domain": ["193", "304", "1700", "1600"], "range": ["#222222", "#f25a3c", "#5573c8", "#72c255"]}, "legend": null}
    }},
   {"data": {"name": "a_text"}, "mark": {"type": "text", "fontSize": 14},
    "encoding": {
     "x": {"field": "t", "type": "quantitative", "axis": {"orient": "top", "values": [0, 20, 40, 60, 80, 100, 120, 140, 160, 180], "labelExpr": "timeFormat(datetime(2000,0,1,17,datum.value),'%H:%M')", "title": "Time (UT)", "tickSize": -6, "labelPadding": 10, "titlePadding": 1}},
     "y": {"field": "v", "type": "quantitative", "axis": {"orient": "right", "values": [0.2, 0.4, 0.6, 0.8, 1.0], "labels": false, "tickSize": -6, "title": null}},
     "text": {"field": "label"},
     "color": {"field": "s", "type": "nominal", "legend": null}
    }},
   {"data": {"name": "a_marks"}, "mark": {"type": "rule", "color": "#222", "strokeWidth": 1.6},
    "encoding": {
     "x": {"field": "t", "type": "quantitative", "axis": {"orient": "bottom", "values": [0,10,20,30,40,50,60,70,80,90,100,110,120,130,140,150,160,170,180], "labels": false, "tickSize": -3, "title": null}},
     "y": {"field": "lo", "type": "quantitative", "axis": {"orient": "left", "values": [0.2,0.25,0.3,0.35,0.4,0.45,0.5,0.55,0.6,0.65,0.7,0.75,0.8,0.85,0.9,0.95,1.0,1.05], "labels": false, "tickSize": -3, "title": null}},
     "y2": {"field": "hi"}
    }},
   {"data": {"name": "a_title"}, "mark": {"type": "text", "fontSize": 21, "align": "left", "color": "#111"},
    "encoding": {
     "x": {"field": "t", "type": "quantitative", "axis": {"orient": "top", "values": [0,10,20,30,40,50,60,70,80,90,100,110,120,130,140,150,160,170,180], "labels": false, "tickSize": -3, "title": null}},
     "y": {"field": "v", "type": "quantitative", "axis": {"orient": "right", "values": [0.2,0.25,0.3,0.35,0.4,0.45,0.5,0.55,0.6,0.65,0.7,0.75,0.8,0.85,0.9,0.95,1.0,1.05], "labels": false, "tickSize": -3, "title": null}},
     "text": {"field": "label"}
    }}
  ]
 },
 {"width": 33, "height": 232, "data": {"values": []}, "mark": "point", "view": {"stroke": null}},
 {
  "width": 358, "height": 232,
  "resolve": {"axis": {"x": "independent", "y": "independent"}},
  "layer": [
   {"data": {"name": "b_lines"}, "mark": {"type": "line", "strokeWidth": 1.1, "clip": true},
    "encoding": {
     "x": {"field": "t", "type": "quantitative", "scale": {"domain": [0, 33], "nice": false, "zero": false}, "axis": {"orient": "bottom", "values": [0, 5, 10, 15, 20, 25, 30], "title": "Time (min)", "tickSize": -6, "labelPadding": 13, "titlePadding": 2}},
     "y": {"field": "v", "type": "quantitative", "scale": {"domain": [-0.016, 1.1], "nice": false, "zero": false}, "axis": {"orient": "left", "values": [0, 0.2, 0.4, 0.6, 0.8, 1.0], "format": ".1f", "title": "Normalized Intensity", "titleFontSize": 10.5, "tickSize": -6, "labelPadding": 12, "titlePadding": 4}},
     "color": {"field": "s", "type": "nominal", "scale": {"domain": ["2796", "1330", "1400"], "range": ["#f45a3a", "#222222", "#5573c8"]}, "legend": null}
    }},
   {"data": {"name": "b_text"}, "mark": {"type": "text", "fontSize": 14},
    "encoding": {
     "x": {"field": "t", "type": "quantitative", "axis": {"orient": "top", "values": [0,3,6,9,12,15,18,21,24,27,30,33], "labelExpr": "timeFormat(datetime(2000,0,1,17,43+datum.value),'%H:%M')", "title": "Time (UT)", "tickSize": -6, "labelPadding": 10, "titlePadding": 1}},
     "y": {"field": "v", "type": "quantitative", "axis": {"orient": "right", "values": [0, 0.2, 0.4, 0.6, 0.8, 1.0], "labels": false, "tickSize": -6, "title": null}},
     "text": {"field": "label"},
     "color": {"field": "s", "type": "nominal", "legend": null}
    }},
   {"data": {"name": "b_rules"}, "transform": [{"filter": "datum.k == 'gray'"}], "mark": {"type": "rule", "color": "#8a8a8a", "strokeWidth": 2.5},
    "encoding": {
     "x": {"field": "t", "type": "quantitative", "axis": {"orient": "bottom", "values": [0,1,2,3,4,5,6,7,8,9,10,11,12,13,14,15,16,17,18,19,20,21,22,23,24,25,26,27,28,29,30,31,32,33], "labels": false, "tickSize": -3, "title": null}},
     "y": {"field": "lo", "type": "quantitative", "axis": {"orient": "left", "values": [0,0.05,0.1,0.15,0.2,0.25,0.3,0.35,0.4,0.45,0.5,0.55,0.6,0.65,0.7,0.75,0.8,0.85,0.9,0.95,1,1.05,1.1], "labels": false, "tickSize": -3, "title": null}},
     "y2": {"field": "hi"}
    }},
   {"data": {"name": "b_rules"}, "transform": [{"filter": "datum.k == 'dark'"}], "mark": {"type": "rule", "color": "#333", "strokeWidth": 1.2},
    "encoding": {
     "x": {"field": "t", "type": "quantitative", "axis": {"orient": "top", "values": [0,1,2,3,4,5,6,7,8,9,10,11,12,13,14,15,16,17,18,19,20,21,22,23,24,25,26,27,28,29,30,31,32,33], "labels": false, "tickSize": -3, "title": null}},
     "y": {"field": "lo", "type": "quantitative", "axis": {"orient": "right", "values": [0,0.05,0.1,0.15,0.2,0.25,0.3,0.35,0.4,0.45,0.5,0.55,0.6,0.65,0.7,0.75,0.8,0.85,0.9,0.95,1,1.05,1.1], "labels": false, "tickSize": -3, "title": null}},
     "y2": {"field": "hi"}
    }},
   {"data": {"name": "b_title"}, "mark": {"type": "text", "fontSize": 20, "align": "left", "color": "#111"},
    "encoding": {
     "x": {"field": "t", "type": "quantitative", "axis": null},
     "y": {"field": "v", "type": "quantitative", "axis": null},
     "text": {"field": "label"}
    }}
  ]
 },
 {"width": 43, "height": 232, "data": {"values": []}, "mark": "point", "view": {"stroke": null}},
 {
  "width": 358, "height": 232,
  "resolve": {"axis": {"x": "independent", "y": "independent"}},
  "layer": [
   {"data": {"name": "c_shade"}, "mark": {"type": "rect", "color": "#edf2f5"},
    "encoding": {
     "x": {"field": "t0", "type": "quantitative", "scale": {"domain": [0, 150], "nice": false, "zero": false}, "axis": {"orient": "bottom", "values": [0, 30, 60, 90, 120, 150], "title": "Time (min)", "tickSize": -6, "labelPadding": 13, "titlePadding": 2}},
     "x2": {"field": "t1"},
     "y": {"field": "lo", "type": "quantitative", "scale": {"domain": [-0.013, 1.1], "nice": false, "zero": false}, "axis": {"orient": "left", "values": [0, 0.2, 0.4, 0.6, 0.8, 1.0], "format": ".1f", "title": "Normalized Intensity", "titleFontSize": 10.5, "tickSize": -6, "labelPadding": 12, "titlePadding": 4}},
     "y2": {"field": "hi"}
    }},
   {"data": {"name": "c_line"}, "mark": {"type": "line", "color": "#555", "strokeWidth": 1.3},
    "encoding": {
     "x": {"field": "t", "type": "quantitative", "axis": {"orient": "top", "values": [0,15,30,45,60,75,90,105,120,135,150], "labelExpr": "timeFormat(datetime(2000,0,1,17,28+datum.value),'%H:%M')", "title": "Time (UT)", "titleFontSize": 9, "tickSize": -6, "labelPadding": 10, "titlePadding": 0}},
     "y": {"field": "v", "type": "quantitative", "axis": {"orient": "right", "values": [0, 0.2, 0.4, 0.6, 0.8, 1.0], "labels": false, "tickSize": -6, "title": null}},
     "detail": {"field": "seg", "type": "nominal"}
    }},
   {"data": {"name": "c_rules"}, "transform": [{"filter": "datum.k == 'a'"}], "mark": {"type": "rule", "color": "#333", "strokeWidth": 1.2},
    "encoding": {
     "x": {"field": "t", "type": "quantitative", "axis": {"orient": "bottom", "values": [0,5,10,15,20,25,30,35,40,45,50,55,60,65,70,75,80,85,90,95,100,105,110,115,120,125,130,135,140,145,150], "labels": false, "tickSize": -3, "title": null}},
     "y": {"field": "lo", "type": "quantitative", "axis": {"orient": "left", "values": [0,0.05,0.1,0.15,0.2,0.25,0.3,0.35,0.4,0.45,0.5,0.55,0.6,0.65,0.7,0.75,0.8,0.85,0.9,0.95,1,1.05,1.1], "labels": false, "tickSize": -3, "title": null}},
     "y2": {"field": "hi"}
    }},
   {"data": {"name": "c_rules"}, "transform": [{"filter": "datum.k == 'b'"}], "mark": {"type": "rule", "color": "#666", "strokeWidth": 2},
    "encoding": {
     "x": {"field": "t", "type": "quantitative", "axis": {"orient": "top", "values": [0,5,10,15,20,25,30,35,40,45,50,55,60,65,70,75,80,85,90,95,100,105,110,115,120,125,130,135,140,145,150], "labels": false, "tickSize": -3, "title": null}},
     "y": {"field": "lo", "type": "quantitative", "axis": {"orient": "right", "values": [0,0.05,0.1,0.15,0.2,0.25,0.3,0.35,0.4,0.45,0.5,0.55,0.6,0.65,0.7,0.75,0.8,0.85,0.9,0.95,1,1.05,1.1], "labels": false, "tickSize": -3, "title": null}},
     "y2": {"field": "hi"}
    }},
   {"data": {"name": "c_text"}, "mark": {"type": "text", "fontSize": 17.5, "color": "#111"},
    "encoding": {
     "x": {"field": "t", "type": "quantitative", "axis": null},
     "y": {"field": "v", "type": "quantitative", "axis": null},
     "text": {"field": "label"}
    }}
  ]
 },
 {
  "width": 359, "height": 231,
  "resolve": {"axis": {"x": "independent", "y": "independent"}},
  "layer": [
   {"data": {"name": "d_err"}, "mark": {"type": "rule", "color": "#777", "strokeWidth": 1.4},
    "encoding": {
     "x": {"field": "t", "type": "quantitative", "scale": {"domain": [0, 168], "nice": false, "zero": false}, "axis": {"orient": "bottom", "values": [0, 50, 100, 150], "title": "Time (min)", "tickSize": -6, "labelPadding": 13, "titlePadding": 2}},
     "y": {"field": "lo", "type": "quantitative", "scale": {"domain": [4.18, 18.6], "nice": false, "zero": false}, "axis": {"orient": "left", "values": [5.63, 8.46, 11.28, 14.1, 16.92], "format": ".1f", "title": "Normalized Vectical Electric Current   Iz   (10¹¹A)", "titleFontSize": 10.5, "tickSize": -6, "labelPadding": 12, "titlePadding": 4}},
     "y2": {"field": "hi"}
    }},
   {"data": {"name": "d_err"}, "mark": {"type": "tick", "orient": "horizontal", "color": "#222", "size": 8, "thickness": 1},
    "encoding": {
     "x": {"field": "t", "type": "quantitative", "axis": {"orient": "top", "values": [0, 24, 48, 72, 96, 120, 144, 168], "labelExpr": "timeFormat(datetime(2000,0,1,17,datum.value),'%H:%M')", "title": "Time (UT)", "tickSize": -6, "labelPadding": 10, "titlePadding": 1}},
     "y": {"field": "hi", "type": "quantitative", "axis": {"orient": "right", "values": [5.63, 8.46, 11.28, 14.1, 16.92], "labels": false, "tickSize": -6, "title": null}}
    }},
   {"data": {"name": "d_err"}, "mark": {"type": "tick", "orient": "horizontal", "color": "#222", "size": 8, "thickness": 1},
    "encoding": {
     "x": {"field": "t", "type": "quantitative", "axis": {"orient": "bottom", "values": [0,10,20,30,40,50,60,70,80,90,100,110,120,130,140,150,160], "labels": false, "tickSize": -3, "title": null}},
     "y": {"field": "lo", "type": "quantitative", "axis": {"orient": "left", "values": [4.51,5.07,5.63,6.2,6.76,7.32,7.89,8.45,9.01,9.58,10.14,10.7,11.27,11.83,12.39,12.96,13.52,14.08,14.65,15.21,15.77,16.34,16.9,17.46,18.03,18.59], "labels": false, "tickSize": -3, "title": null}}
    }},
   {"data": {"name": "d_pts"}, "mark": {"type": "line", "color": "#222", "strokeWidth": 1.1},
    "encoding": {
     "x": {"field": "t", "type": "quantitative", "axis": {"orient": "top", "values": [0,6,12,18,24,30,36,42,48,54,60,66,72,78,84,90,96,102,108,114,120,126,132,138,144,150,156,162,168], "labels": false, "tickSize": -3, "title": null}},
     "y": {"field": "v", "type": "quantitative", "axis": {"orient": "right", "values": [4.51,5.07,5.63,6.2,6.76,7.32,7.89,8.45,9.01,9.58,10.14,10.7,11.27,11.83,12.39,12.96,13.52,14.08,14.65,15.21,15.77,16.34,16.9,17.46,18.03,18.59], "labels": false, "tickSize": -3, "title": null}}
    }},
   {"data": {"name": "d_pts"}, "mark": {"type": "point", "shape": "diamond", "filled": false, "color": "#222", "size": 220, "strokeWidth": 1.3, "opacity": 1},
    "encoding": {
     "x": {"field": "t", "type": "quantitative", "axis": null},
     "y": {"field": "v", "type": "quantitative", "axis": null}
    }},
   {"data": {"name": "d_rules"}, "mark": {"type": "rule", "color": "#333", "strokeWidth": 1.3},
    "encoding": {
     "x": {"field": "t", "type": "quantitative", "axis": null},
     "y": {"field": "lo", "type": "quantitative", "axis": null},
     "y2": {"field": "hi"}
    }},
   {"data": {"name": "d_title"}, "mark": {"type": "text", "fontSize": 21, "align": "left", "color": "#111"},
    "encoding": {
     "x": {"field": "t", "type": "quantitative", "axis": null},
     "y": {"field": "v", "type": "quantitative", "axis": null},
     "text": {"field": "label"}
    }}
  ]
 },
 {"width": 33, "height": 231, "data": {"values": []}, "mark": "point", "view": {"stroke": null}},
 {
  "width": 354, "height": 231,
  "resolve": {"scale": {"y": "independent"}, "axis": {"x": "independent", "y": "independent"}},
  "layer": [
   {"data": {"name": "e_v"}, "mark": {"type": "line", "color": "#111", "strokeWidth": 2.2, "clip": true},
    "encoding": {
     "x": {"field": "t", "type": "quantitative", "scale": {"domain": [0, 168], "nice": false, "zero": false}, "axis": {"orient": "bottom", "values": [0, 50, 100, 150], "title": "Time (min)", "tickSize": -6, "labelPadding": 13, "titlePadding": 2}},
     "y": {"field": "v", "type": "quantitative", "scale": {"domain": [394, 806], "nice": false, "zero": false}, "axis": {"orient": "left", "values": [400, 500, 600, 700, 800], "title": null, "tickSize": -6, "labelPadding": 10}}
    }},
   {"data": {"name": "e_b"}, "mark": {"type": "line", "color": "#ee1d1d", "strokeWidth": 2, "clip": true},
    "encoding": {
     "x": {"field": "t", "type": "quantitative", "axis": {"orient": "top", "values": [0, 24, 48, 72, 96, 120, 144, 168], "labelExpr": "timeFormat(datetime(2000,0,1,17,datum.value),'%H:%M')", "title": "Time (UT)", "tickSize": -6, "labelPadding": 10, "titlePadding": 1}},
     "y": {"field": "b", "type": "quantitative", "scale": {"domain": [11.9, 19.1], "nice": false, "zero": false}, "axis": {"orient": "right", "values": [12, 13, 14, 15, 16, 17, 18, 19], "title": null, "tickSize": -6, "labelPadding": 8, "labelColor": "#e8312a", "tickColor": "#e8312a"}}
    }},
   {"data": {"name": "e_rules"}, "mark": {"type": "rule", "color": "#777", "strokeWidth": 2},
    "encoding": {
     "x": {"field": "t", "type": "quantitative", "axis": {"orient": "bottom", "values": [0,10,20,30,40,50,60,70,80,90,100,110,120,130,140,150,160], "labels": false, "tickSize": -3, "title": null}},
     "y": {"field": "lo", "type": "quantitative", "scale": {"domain": [394, 806], "nice": false, "zero": false}, "axis": {"orient": "left", "values": [400,420,440,460,480,500,520,540,560,580,600,620,640,660,680,700,720,740,760,780,800], "labels": false, "tickSize": -3, "title": null}},
     "y2": {"field": "hi"}
    }},
   {"data": {"name": "e_btext"}, "mark": {"type": "text", "fontSize": 22, "color": "#ee1d1d"},
    "encoding": {
     "x": {"field": "t", "type": "quantitative", "axis": {"orient": "top", "values": [0,6,12,18,24,30,36,42,48,54,60,66,72,78,84,90,96,102,108,114,120,126,132,138,144,150,156,162,168], "labels": false, "tickSize": -3, "title": null}},
     "y": {"field": "b", "type": "quantitative", "scale": {"domain": [11.9, 19.1], "nice": false, "zero": false}, "axis": {"orient": "right", "values": [12,12.2,12.4,12.6,12.8,13,13.2,13.4,13.6,13.8,14,14.2,14.4,14.6,14.8,15,15.2,15.4,15.6,15.8,16,16.2,16.4,16.6,16.8,17,17.2,17.4,17.6,17.8,18,18.2,18.4,18.6,18.8,19], "labels": false, "tickSize": -3, "title": null, "tickColor": "#e8312a"}},
     "text": {"field": "label"}
    }},
   {"data": {"name": "e_bsub"}, "mark": {"type": "text", "fontSize": 10, "color": "#ee1d1d"},
    "encoding": {
     "x": {"field": "t", "type": "quantitative", "axis": null},
     "y": {"field": "b", "type": "quantitative", "scale": {"domain": [11.9, 19.1], "nice": false, "zero": false}, "axis": null},
     "text": {"field": "label"}
    }},
   {"data": {"name": "e_vtext"}, "mark": {"type": "text", "fontSize": 22, "color": "#111"},
    "encoding": {
     "x": {"field": "t", "type": "quantitative", "axis": null},
     "y": {"field": "v", "type": "quantitative", "scale": {"domain": [394, 806], "nice": false, "zero": false}, "axis": null},
     "text": {"field": "label"}
    }},
   {"data": {"name": "e_vbold"}, "mark": {"type": "text", "fontSize": 23, "fontWeight": "bold", "color": "#111"},
    "encoding": {
     "x": {"field": "t", "type": "quantitative", "axis": null},
     "y": {"field": "v", "type": "quantitative", "scale": {"domain": [394, 806], "nice": false, "zero": false}, "axis": null},
     "text": {"field": "label"}
    }},
   {"data": {"name": "e_vsub"}, "mark": {"type": "text", "fontSize": 10, "color": "#111"},
    "encoding": {
     "x": {"field": "t", "type": "quantitative", "axis": null},
     "y": {"field": "v", "type": "quantitative", "scale": {"domain": [394, 806], "nice": false, "zero": false}, "axis": null},
     "text": {"field": "label"}
    }},
   {"data": {"name": "e_title"}, "mark": {"type": "text", "fontSize": 21, "align": "left", "color": "#111"},
    "encoding": {
     "x": {"field": "t", "type": "quantitative", "axis": null},
     "y": {"field": "v", "type": "quantitative", "scale": {"domain": [394, 806], "nice": false, "zero": false}, "axis": null},
     "text": {"field": "label"}
    }}
  ]
 },
 {"width": 43, "height": 231, "data": {"values": []}, "mark": "point", "view": {"stroke": null}},
 {
  "width": 347, "height": 232,
  "resolve": {"axis": {"x": "independent", "y": "independent"}},
  "layer": [
   {"data": {"name": "f_hist"}, "mark": {"type": "line", "interpolate": "step-after", "strokeWidth": 2.2, "clip": true},
    "encoding": {
     "x": {"field": "x", "type": "quantitative", "scale": {"domain": [-1190, 1600], "nice": false, "zero": false}, "axis": {"orient": "bottom", "values": [-1000, -500, 0, 500, 1000, 1500], "format": "d", "title": "SDO/HMI Doppler Velocities (m/s)", "tickSize": -6, "labelPadding": 13, "titlePadding": 2}},
     "y": {"field": "h", "type": "quantitative", "scale": {"domain": [-0.0006, 0.1427], "nice": false, "zero": false}, "axis": {"orient": "left", "values": [0, 0.02, 0.04, 0.06, 0.08, 0.1, 0.12, 0.14], "format": ".2f", "title": "Percentage Histogram", "tickSize": -6, "labelPadding": 12, "titlePadding": 10}},
     "color": {"field": "s", "type": "nominal", "scale": {"domain": ["Before", "Starting", "During"], "range": ["#111111", "#4f7cc9", "#f03a35"]}, "legend": null}
    }},
   {"data": {"name": "f_text"}, "transform": [{"filter": "datum.s != 'During'"}], "mark": {"type": "text", "fontSize": 16, "align": "left"},
    "encoding": {
     "x": {"field": "x", "type": "quantitative", "axis": {"orient": "top", "values": [-1000, -500, 0, 500, 1000, 1500], "labels": false, "tickSize": -6, "title": null}},
     "y": {"field": "h", "type": "quantitative", "axis": {"orient": "right", "values": [0, 0.02, 0.04, 0.06, 0.08, 0.1, 0.12, 0.14], "labels": false, "tickSize": -6, "title": null}},
     "text": {"field": "label"},
     "color": {"field": "s", "type": "nominal", "legend": null}
    }},
   {"data": {"name": "f_title"}, "mark": {"type": "text", "fontSize": 21, "align": "left", "color": "#111"},
    "encoding": {
     "x": {"field": "x", "type": "quantitative", "axis": {"orient": "bottom", "values": [-1100,-1000,-900,-800,-700,-600,-500,-400,-300,-200,-100,0,100,200,300,400,500,600,700,800,900,1000,1100,1200,1300,1400,1500,1600], "labels": false, "tickSize": -3, "title": null}},
     "y": {"field": "h", "type": "quantitative", "axis": {"orient": "left", "values": [0,0.005,0.01,0.015,0.02,0.025,0.03,0.035,0.04,0.045,0.05,0.055,0.06,0.065,0.07,0.075,0.08,0.085,0.09,0.095,0.1,0.105,0.11,0.115,0.12,0.125,0.13,0.135,0.14], "labels": false, "tickSize": -3, "title": null}},
     "text": {"field": "label"}
    }},
   {"data": {"name": "f_text"}, "transform": [{"filter": "datum.s == 'During'"}], "mark": {"type": "text", "fontSize": 16, "align": "left"},
    "encoding": {
     "x": {"field": "x", "type": "quantitative", "axis": {"orient": "top", "values": [-1100,-1000,-900,-800,-700,-600,-500,-400,-300,-200,-100,0,100,200,300,400,500,600,700,800,900,1000,1100,1200,1300,1400,1500,1600], "labels": false, "tickSize": -3, "title": null}},
     "y": {"field": "h", "type": "quantitative", "axis": {"orient": "right", "values": [0,0.005,0.01,0.015,0.02,0.025,0.03,0.035,0.04,0.045,0.05,0.055,0.06,0.065,0.07,0.075,0.08,0.085,0.09,0.095,0.1,0.105,0.11,0.115,0.12,0.125,0.13,0.135,0.14], "labels": false, "tickSize": -3, "title": null}},
     "text": {"field": "label"},
     "color": {"field": "s", "type": "nominal", "legend": null}
    }}
  ]
 }
]
}
